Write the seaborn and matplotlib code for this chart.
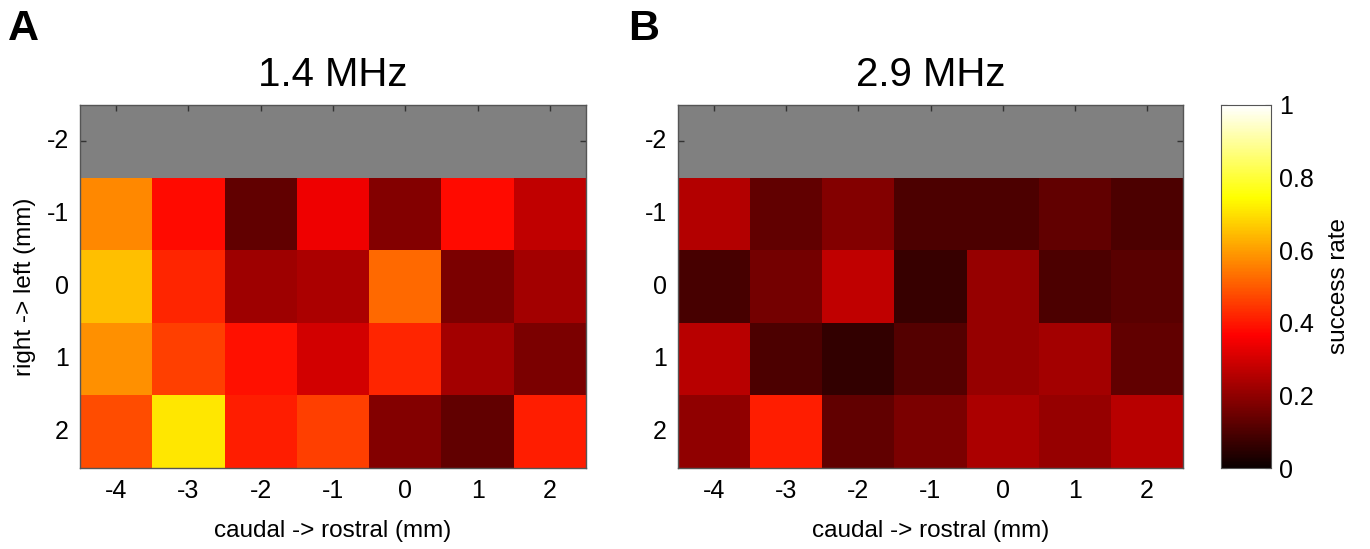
import numpy as np
import pandas as pd
import seaborn as sns
import matplotlib
matplotlib.use("Agg")
import matplotlib.pyplot as plt

# positions on the grid (mm)
x_pos = [-4, -3, -2, -1, 0, 1, 2]
y_pos = [-2, -1, 0, 1, 2]

# success rate, rows = y_pos, cols = x_pos (NaN = not tested)
rate_14 = [
    [np.nan] * 7,
    [0.57, 0.38, 0.13, 0.34, 0.18, 0.38, 0.27],
    [0.65, 0.42, 0.22, 0.24, 0.52, 0.17, 0.23],
    [0.58, 0.46, 0.39, 0.30, 0.42, 0.23, 0.17],
    [0.48, 0.71, 0.41, 0.46, 0.18, 0.13, 0.41],
]
rate_29 = [
    [np.nan] * 7,
    [0.25, 0.13, 0.18, 0.10, 0.10, 0.13, 0.10],
    [0.09, 0.16, 0.27, 0.07, 0.21, 0.10, 0.12],
    [0.26, 0.10, 0.06, 0.11, 0.21, 0.23, 0.13],
    [0.20, 0.41, 0.13, 0.17, 0.24, 0.21, 0.26],
]
cbar_ticks = [0, 0.2, 0.4, 0.6, 0.8, 1]
cbar_labels = ["0", "0.2", "0.4", "0.6", "0.8", "1"]

sns.set_style("white")
plt.rcParams['font.family'] = ['Liberation Sans', 'DejaVu Sans']
plt.rcParams['text.color'] = 'black'
plt.rcParams['axes.labelcolor'] = 'black'
plt.rcParams['xtick.color'] = 'black'
plt.rcParams['ytick.color'] = 'black'

W, H = 1370, 549
fig = plt.figure(figsize=(W / 100, H / 100), dpi=100)


def box(l, r, t, b):
    return [l / W, (H - b) / H, (r - l) / W, (b - t) / H]


ax1 = fig.add_axes(box(80, 586, 105, 468))
ax2 = fig.add_axes(box(678, 1183, 105, 468))
cax = fig.add_axes(box(1221, 1271, 105, 468))

panels = [(ax1, rate_14, "1.4 MHz"), (ax2, rate_29, "2.9 MHz")]
for i, (ax, data, title) in enumerate(panels):
    df = pd.DataFrame(data, index=y_pos, columns=x_pos)
    sns.heatmap(df, ax=ax, cmap="hot", vmin=0, vmax=1,
                cbar=(i == 1), cbar_ax=cax if i == 1 else None)
    ax.set_facecolor("#808080")
    ax.set_title(title, fontsize=29, pad=14)
    ax.set_xlabel("caudal -> rostral (mm)", fontsize=17.5, labelpad=12)
    ax.tick_params(axis="both", direction="in", length=4, width=1,
                   color="#333333", labelcolor="black", labelsize=18, pad=8,
                   top=True, right=True, bottom=True, left=True)
    ax.set_xticklabels([str(v) for v in x_pos], rotation=0)
    ax.set_yticklabels([str(v) for v in y_pos], rotation=0)
    for s in ax.spines.values():
        s.set_visible(True)
        s.set_color("#555555")
        s.set_linewidth(1)

ax1.set_ylabel("right -> left (mm)", fontsize=17.5, labelpad=8)
ax2.set_ylabel("")

fig.text(8 / W, 1 - 40 / H, "A", fontsize=31, fontweight="bold")
fig.text(628 / W, 1 - 40 / H, "B", fontsize=31, fontweight="bold")

cax.set_yticks(cbar_ticks)
cax.set_yticklabels(cbar_labels)
cax.tick_params(direction="in", length=4, labelsize=18, labelcolor="black",
                color="#333333", left=True, right=True, pad=6)
cax.set_ylabel("success rate", fontsize=17.5, labelpad=10)
for s in cax.spines.values():
    s.set_visible(True)
    s.set_color("#555555")

fig.savefig("out.png", dpi=100)
